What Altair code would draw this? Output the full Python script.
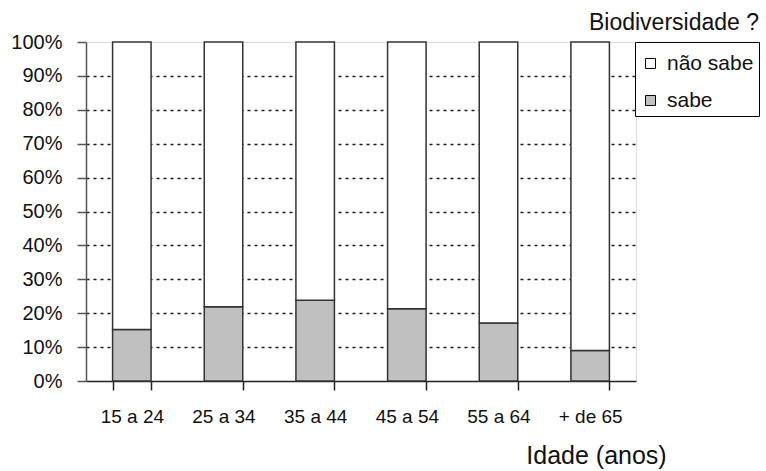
import altair as alt
import pandas as pd

# Faixas etárias e percentagens de quem sabe / não sabe o que é biodiversidade
faixas = ["15 a 24", "25 a 34", "35 a 44", "45 a 54", "55 a 64", "+ de 65"]
sabe = [15.2, 21.9, 23.8, 21.3, 17.1, 9.0]
nao_sabe = [84.8, 78.1, 76.2, 78.7, 82.9, 91.0]
respostas = ["não sabe", "sabe"]
cores = ["#ffffff", "#c0c0c0"]
ticks_y = [i / 10 for i in range(11)]
titulo_legenda = "Biodiversidade ?"

rows = []
for f, s, n in zip(faixas, sabe, nao_sabe):
    rows.append({"faixa": f, "resposta": "sabe", "valor": s / 100, "ordem": 0})
    rows.append({"faixa": f, "resposta": "não sabe", "valor": n / 100, "ordem": 1})
df = pd.DataFrame(rows)

FONT = "Liberation Sans"

barras = (
    alt.Chart(df)
    .mark_bar(stroke="#333333", strokeWidth=1.5)
    .encode(
        x=alt.X(
            "faixa:N",
            sort=faixas,
            scale=alt.Scale(paddingInner=0.58, paddingOuter=0.29),
            axis=alt.Axis(
                title="Idade (anos)",
                labelAngle=0,
                tickBand="extent",
                tickSize=9,
                tickColor="#222222",
                domainColor="#222222",
                domainWidth=1.5,
                tickWidth=1.5,
                labelPadding=17,
                labelFontSize=19,
                labelFont=FONT,
                labelColor="#111111",
                titleFont=FONT,
                titleFontSize=25,
                titleFontWeight="normal",
                titleColor="#111111",
                titleX=510,
                titleY=82,
                titleAlign="center",
                titleBaseline="alphabetic",
                grid=False,
            ),
        ),
        y=alt.Y(
            "valor:Q",
            stack="zero",
            scale=alt.Scale(domain=[0, 1], nice=False),
            axis=alt.Axis(
                title=None,
                format=".0%",
                values=ticks_y,
                tickSize=9,
                tickColor="#555555",
                domainColor="#555555",
                domainWidth=1.5,
                tickWidth=1.5,
                labelPadding=15,
                labelFontSize=20,
                labelFont=FONT,
                labelColor="#111111",
                grid=True,
                gridColor="#1a1a1a",
                gridDash=[3, 4],
                gridWidth=1.5,
                gridOpacity={
                    "condition": {"test": "datum.value <= 0 || datum.value >= 1", "value": 0},
                    "value": 1,
                },
            ),
        ),
        color=alt.Color(
            "resposta:N",
            scale=alt.Scale(domain=respostas, range=cores),
            legend=alt.Legend(
                title=" ",
                titleFontSize=6,
                titlePadding=0,
                orient="none",
                legendX=549,
                legendY=0,
                direction="vertical",
                symbolType="square",
                symbolSize=100,
                symbolStrokeColor="#000000",
                symbolStrokeWidth=1,
                labelFont=FONT,
                labelFontSize=21,
                labelColor="#111111",
                labelOffset=6,
                labelLimit=300,
                rowPadding=15,
                padding=5,
                strokeColor="#000000",
                fillColor="#ffffff",
            ),
        ),
        order=alt.Order("ordem:Q"),
    )
)

# Título da legenda, acima da caixa
titulo = (
    alt.Chart(pd.DataFrame({"t": [titulo_legenda]}))
    .mark_text(
        font=FONT,
        fontSize=23,
        color="#111111",
        align="center",
        baseline="alphabetic",
    )
    .encode(text="t:N", x=alt.value(588), y=alt.value(-12))
)

chart = (
    alt.layer(barras, titulo)
    .properties(
        width=550,
        height=339,
        autosize=alt.AutoSizeParams(type="none"),
        padding={"left": 86, "top": 42, "right": 130, "bottom": 90},
    )
    .configure_view(stroke="#c8c8c8", strokeWidth=1.5)
    .configure(background="#ffffff")
)

chart.save("out.html", embed_options={"renderer": "svg", "actions": False})
